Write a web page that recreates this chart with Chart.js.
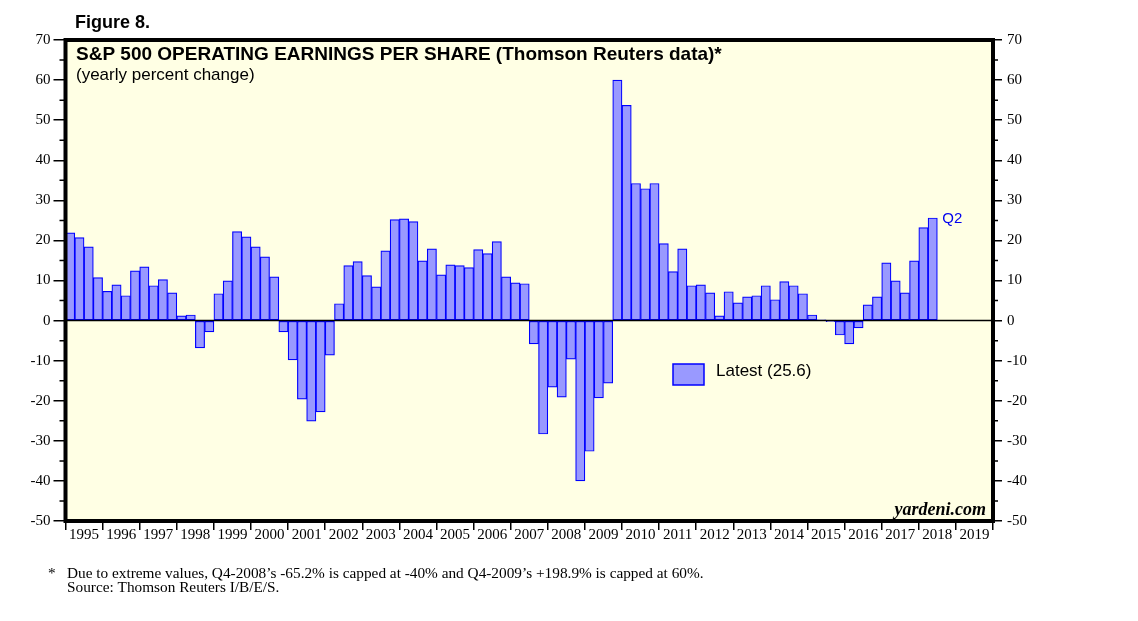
<!DOCTYPE html>
<html>
<head>
<meta charset="utf-8">
<script src="https://cdn.jsdelivr.net/npm/chart.js@4.4.1/dist/chart.umd.min.js"></script>
<style>
  html, body { margin: 0; padding: 0; background: #fff; overflow: hidden; }
  #chart { display: block; }
</style>
</head>
<body>
<canvas id="chart" width="1138" height="621"></canvas>
<script>
// year labels along the bottom, one bar per quarter
const years = ['1995', '1996', '1997', '1998', '1999', '2000', '2001', '2002', '2003', '2004',
  '2005', '2006', '2007', '2008', '2009', '2010', '2011', '2012', '2013', '2014',
  '2015', '2016', '2017', '2018', '2019']
const quarters = years.flatMap(y => ['Q1', 'Q2', 'Q3', 'Q4'].map(q => q + '-' + y))

// S&P 500 operating EPS, yearly % change, Q1-1995 .. Q2-2018 (capped at -40 / 60)
const epsChange = [
  21.9, 20.7, 18.4, 10.7,
  7.3, 8.9, 6.2, 12.4,
  13.4, 8.7, 10.2, 6.9,
  1.2, 1.4, -6.8, -2.8,
  6.7, 9.9, 22.2, 20.9,
  18.4, 15.9, 10.9, -2.8,
  -9.8, -19.6, -25.1, -22.8,
  -8.6, 4.2, 13.7, 14.7,
  11.2, 8.4, 17.4, 25.2,
  25.4, 24.7, 14.9, 17.9,
  11.4, 13.9, 13.7, 13.2,
  17.7, 16.7, 19.7, 10.9,
  9.4, 9.2, -5.8, -28.3,
  -16.6, -19.1, -9.6, -40,
  -32.6, -19.3, -15.6, 60,
  53.7, 34.2, 32.9, 34.2,
  19.2, 12.2, 17.9, 8.7,
  8.9, 6.9, 1.2, 7.2,
  4.4, 5.9, 6.2, 8.7,
  5.2, 9.7, 8.7, 6.7,
  1.4, 0.1, -0.3, -3.6,
  -5.8, -1.8, 3.9, 5.9,
  14.4, 9.9, 6.9, 14.9,
  23.2, 25.6
]
const latestQuarter = 'Q2'
const yMin = -50
const yMax = 70

const serif = '"Liberation Serif", "Times New Roman", serif'
const sans = '"Liberation Sans", Arial, sans-serif'
const barFill = '#9999ff'
const barLine = '#0000ff'

const frame = {
  id: 'frame',
  beforeDraw(chart) {
    const {ctx, chartArea: a} = chart
    ctx.save()
    ctx.fillStyle = '#ffffff'
    ctx.fillRect(0, 0, chart.width, chart.height)
    ctx.fillStyle = '#ffffe4'
    ctx.fillRect(a.left, a.top, a.right - a.left, a.bottom - a.top)
    ctx.restore()
  },
  afterDatasetsDraw(chart) {
    const {ctx, chartArea: a} = chart
    const y = chart.scales.y
    ctx.save()

    // zero line over the bars
    const y0 = y.getPixelForValue(0)
    ctx.strokeStyle = '#000'
    ctx.lineWidth = 1.5
    ctx.beginPath()
    ctx.moveTo(a.left, y0)
    ctx.lineTo(a.right, y0)
    ctx.stroke()

    // minor ticks every 5
    ctx.lineWidth = 1.5
    for (let v = yMin + 5; v < yMax; v += 10) {
      const py = y.getPixelForValue(v)
      ctx.beginPath()
      ctx.moveTo(a.left - 6, py)
      ctx.lineTo(a.left, py)
      ctx.moveTo(a.right, py)
      ctx.lineTo(a.right + 5, py)
      ctx.stroke()
    }

    // heavy frame
    ctx.lineWidth = 4
    ctx.strokeRect(a.left, a.top, a.right - a.left, a.bottom - a.top)

    // titles
    ctx.fillStyle = '#000'
    ctx.textAlign = 'left'
    ctx.textBaseline = 'alphabetic'
    ctx.font = 'bold 18px ' + sans
    ctx.fillText('Figure 8.', 75, 28)
    ctx.font = 'bold 19px ' + sans
    ctx.fillText('S&P 500 OPERATING EARNINGS PER SHARE (Thomson Reuters data)*', 76, 60)
    ctx.font = '17px ' + sans
    ctx.fillText('(yearly percent change)', 76, 80)

    // legend
    const ds = chart.data.datasets[0]
    ctx.fillStyle = ds.backgroundColor
    ctx.fillRect(673, 364, 31, 21)
    ctx.strokeStyle = ds.borderColor
    ctx.lineWidth = 1.5
    ctx.strokeRect(673, 364, 31, 21)
    ctx.fillStyle = '#000'
    ctx.font = '17px ' + sans
    ctx.fillText(ds.label, 716, 376)

    // last quarter tag
    const meta = chart.getDatasetMeta(0)
    const last = meta.data[epsChange.length - 1]
    ctx.fillStyle = '#0000ee'
    ctx.font = '15px ' + sans
    ctx.fillText(latestQuarter, last.x + last.width / 2 + 5, last.y + 5)

    // credit
    ctx.fillStyle = '#000'
    ctx.textAlign = 'right'
    ctx.font = 'italic bold 18px ' + serif
    ctx.fillText('yardeni.com', 986, 515)

    // footnote
    ctx.textAlign = 'left'
    ctx.font = '15.3px ' + serif
    ctx.fillText('*', 48, 578)
    ctx.fillText('Due to extreme values, Q4-2008\u2019s -65.2% is capped at -40% and Q4-2009\u2019s +198.9% is capped at 60%.', 67, 578)
    ctx.fillText('Source: Thomson Reuters I/B/E/S.', 67, 592)

    ctx.restore()
  }
}

const valueAxis = (position, width, tickLength, padding) => ({
  type: 'linear',
  position: position,
  min: yMin,
  max: yMax,
  afterFit: (s) => { s.width = width },
  border: {display: false},
  grid: {
    drawOnChartArea: false,
    drawTicks: true,
    tickLength: tickLength,
    color: '#000',
    lineWidth: 1.5
  },
  ticks: {
    stepSize: 10,
    padding: padding,
    color: '#000',
    font: {family: serif, size: 15}
  }
})

new Chart(document.getElementById('chart'), {
  type: 'bar',
  data: {
    labels: quarters,
    datasets: [{
      label: 'Latest (' + epsChange[epsChange.length - 1].toFixed(1) + ')',
      data: epsChange,
      backgroundColor: barFill,
      borderColor: barLine,
      borderWidth: 1.2,
      borderSkipped: false,
      barPercentage: 1,
      categoryPercentage: 1,
      xAxisID: 'x',
      yAxisID: 'y'
    }]
  },
  options: {
    responsive: false,
    animation: false,
    devicePixelRatio: 1,
    layout: {padding: {top: 40, left: 0, right: 100, bottom: 70}},
    plugins: {
      legend: {display: false},
      tooltip: {enabled: false}
    },
    scales: {
      x: {
        type: 'category',
        display: false,
        offset: true
      },
      xYears: {
        type: 'category',
        labels: years,
        position: 'bottom',
        offset: true,
        afterFit: (s) => { s.height = 30 },
        border: {display: false},
        grid: {
          offset: true,
          drawOnChartArea: false,
          tickLength: 9,
          color: '#000',
          lineWidth: 1.5
        },
        ticks: {
          autoSkip: false,
          maxRotation: 0,
          padding: -4,
          color: '#000',
          font: {family: serif, size: 15}
        }
      },
      y: valueAxis('left', 65.5, 12, 3),
      y2: valueAxis('right', 45, 9, 5)
    }
  },
  plugins: [frame]
})
</script>
</body>
</html>
